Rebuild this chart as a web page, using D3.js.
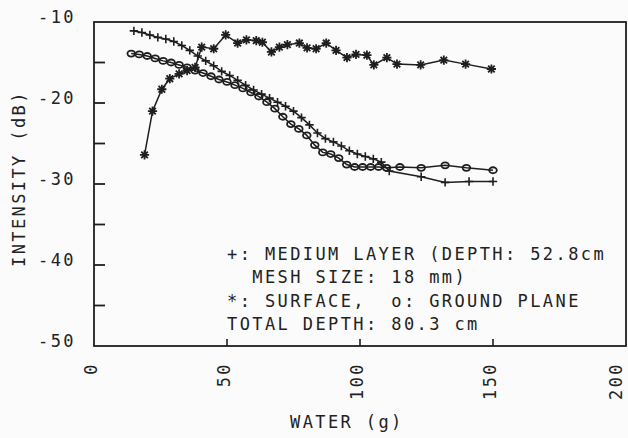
<!DOCTYPE html>
<html>
<head>
<meta charset="utf-8">
<script src="https://cdn.jsdelivr.net/npm/d3@7"></script>
<style>
  html, body { margin: 0; padding: 0; background: #fbfbfb; }
  text { font-family: "DejaVu Sans Mono", monospace; fill: #222; }
</style>
</head>
<body>
<svg id="chart" width="628" height="438"></svg>
<script>
// water (g) vs intensity (dB)
const mediumX = [15, 18, 21, 24, 27, 30, 33, 36, 39, 42, 45, 48, 51, 54, 57, 60, 63, 66, 69, 72, 75, 78, 81, 84, 87, 90, 93, 96, 99, 102, 105, 108, 111, 123, 132, 141, 150];
const mediumY = [-11.1, -11.3, -11.6, -11.9, -12.1, -12.4, -12.9, -13.5, -14.2, -14.8, -15.4, -16.1, -16.6, -17.2, -17.8, -18.4, -18.9, -19.4, -19.9, -20.4, -21.0, -21.8, -22.7, -23.7, -24.4, -24.8, -25.3, -25.9, -26.3, -26.6, -26.9, -27.3, -28.4, -29.1, -29.8, -29.7, -29.7];

const surfaceX = [19, 22, 25.5, 28.5, 32, 35, 38, 40.5, 45, 49.5, 54, 57.3, 61, 63.3, 66.7, 69.7, 72.7, 77.2, 80.1, 83.5, 87.3, 91, 95.1, 98.5, 102.6, 105.2, 110.1, 113.9, 122.8, 131.5, 139.7, 149.4];
const surfaceY = [-26.4, -21.0, -18.3, -17.0, -16.4, -16.0, -15.6, -13.1, -13.3, -11.6, -12.6, -12.2, -12.3, -12.5, -13.7, -13.1, -12.8, -12.6, -13.2, -13.3, -12.6, -13.5, -14.4, -14.0, -14.1, -15.3, -14.4, -15.2, -15.3, -14.7, -15.2, -15.8];

const groundX = [14, 17, 20, 23, 26, 29, 32, 35, 38, 41, 44, 47, 50, 53, 56, 59, 62, 65, 68, 71, 74, 77, 80, 83, 86, 89, 92, 95, 98, 101, 104, 107, 110, 115, 123, 132, 140, 150];
const groundY = [-13.9, -14.0, -14.2, -14.5, -14.8, -15.0, -15.3, -15.6, -16.0, -16.3, -16.7, -17.1, -17.4, -17.8, -18.2, -18.7, -19.2, -19.9, -20.7, -21.7, -22.6, -23.2, -24.0, -25.2, -26.1, -26.3, -26.8, -27.6, -27.9, -27.9, -27.9, -27.9, -28.0, -27.9, -28.0, -27.7, -28.0, -28.3];

const xTicks = [0, 50, 100, 150, 200];
const yLabelTicks = [-10, -20, -30, -40, -50];
const yMinorTicks = [-15, -20, -25, -30, -35, -40, -45];

const legendLines = [
    "+: MEDIUM LAYER (DEPTH: 52.8cm",
    "  MESH SIZE: 18 mm)",
    "*: SURFACE,  o: GROUND PLANE",
    "TOTAL DEPTH: 80.3 cm"
];

const ink = "#1e1e1e";
const plotLeft = 94, plotRight = 626, plotTop = 22, plotBottom = 346;

const svg = d3.select("#chart");
const x = d3.scaleLinear().domain([0, 200]).range([plotLeft, plotRight]);
const y = d3.scaleLinear().domain([-50, -10]).range([plotBottom, plotTop]);

// frame
svg.append("rect")
    .attr("x", plotLeft).attr("y", plotTop)
    .attr("width", plotRight - plotLeft).attr("height", plotBottom - plotTop)
    .attr("fill", "none").attr("stroke", ink).attr("stroke-width", 1.8);

// y ticks (inward)
svg.append("g").selectAll("line")
    .data(yMinorTicks)
    .join("line")
    .attr("x1", plotLeft).attr("x2", plotLeft + 11)
    .attr("y1", d => y(d)).attr("y2", d => y(d))
    .attr("stroke", ink).attr("stroke-width", 1.8);

// x ticks (inward)
svg.append("g").selectAll("line")
    .data(xTicks.slice(1, -1))
    .join("line")
    .attr("x1", d => x(d)).attr("x2", d => x(d))
    .attr("y1", plotBottom).attr("y2", plotBottom - 7)
    .attr("stroke", ink).attr("stroke-width", 1.6);

const fontSize = 17, spacing = 2.4;

// y tick labels
svg.append("g").selectAll("text")
    .data(yLabelTicks)
    .join("text")
    .attr("x", 76).attr("y", d => y(d) + 1)
    .attr("text-anchor", "end")
    .style("font-size", fontSize + "px")
    .style("letter-spacing", spacing + "px")
    .text(d => d);

// x tick labels, rotated (last one pulled in so it stays on the page)
svg.append("g").selectAll("text")
    .data(xTicks)
    .join("text")
    .attr("transform", d => `translate(${Math.min(x(d) + 3, 622)},362) rotate(-90)`)
    .attr("text-anchor", "end")
    .style("font-size", fontSize + "px")
    .style("letter-spacing", spacing + "px")
    .text(d => d);

// axis titles
svg.append("text")
    .attr("x", 290).attr("y", 428)
    .style("font-size", fontSize + "px")
    .style("letter-spacing", spacing + "px")
    .text("WATER (g)");

svg.append("text")
    .attr("transform", "translate(25,267) rotate(-90)")
    .style("font-size", fontSize + "px")
    .style("letter-spacing", spacing + "px")
    .text("INTENSITY (dB)");

// series
const line = d3.line().x(d => x(d[0])).y(d => y(d[1]));
const series = [
    {xs: mediumX, ys: mediumY, mark: "plus"},
    {xs: surfaceX, ys: surfaceY, mark: "star"},
    {xs: groundX, ys: groundY, mark: "ring"}
];

const plusPath = "M-4.2,0H4.2M0,-4.2V4.2";
const starPath = "M-4.6,0H4.6M0,-4.6V4.6M-3.3,-3.3L3.3,3.3M-3.3,3.3L3.3,-3.3";

for(const s of series) {
    const pts = s.xs.map((v, i) => [v, s.ys[i]]);
    svg.append("path")
        .datum(pts)
        .attr("d", line)
        .attr("fill", "none")
        .attr("stroke", ink)
        .attr("stroke-width", 1.5);

    const g = svg.append("g");
    if(s.mark === "ring") {
        g.selectAll("ellipse")
            .data(pts)
            .join("ellipse")
            .attr("cx", d => x(d[0])).attr("cy", d => y(d[1]))
            .attr("rx", 3.8).attr("ry", 3)
            .attr("fill", "none")
            .attr("stroke", ink)
            .attr("stroke-width", 1.8);
    } else {
        g.selectAll("path")
            .data(pts)
            .join("path")
            .attr("transform", d => `translate(${x(d[0])},${y(d[1])})`)
            .attr("d", s.mark === "plus" ? plusPath : starPath)
            .attr("fill", "none")
            .attr("stroke", ink)
            .attr("stroke-width", s.mark === "plus" ? 1.6 : 1.8);
    }
}

// legend block
svg.append("g").selectAll("text")
    .data(legendLines)
    .join("text")
    .attr("x", 227)
    .attr("y", (d, i) => 260 + i * 23.4)
    .style("font-size", fontSize + "px")
    .style("letter-spacing", spacing + "px")
    .style("white-space", "pre")
    .text(d => d);
</script>
</body>
</html>
